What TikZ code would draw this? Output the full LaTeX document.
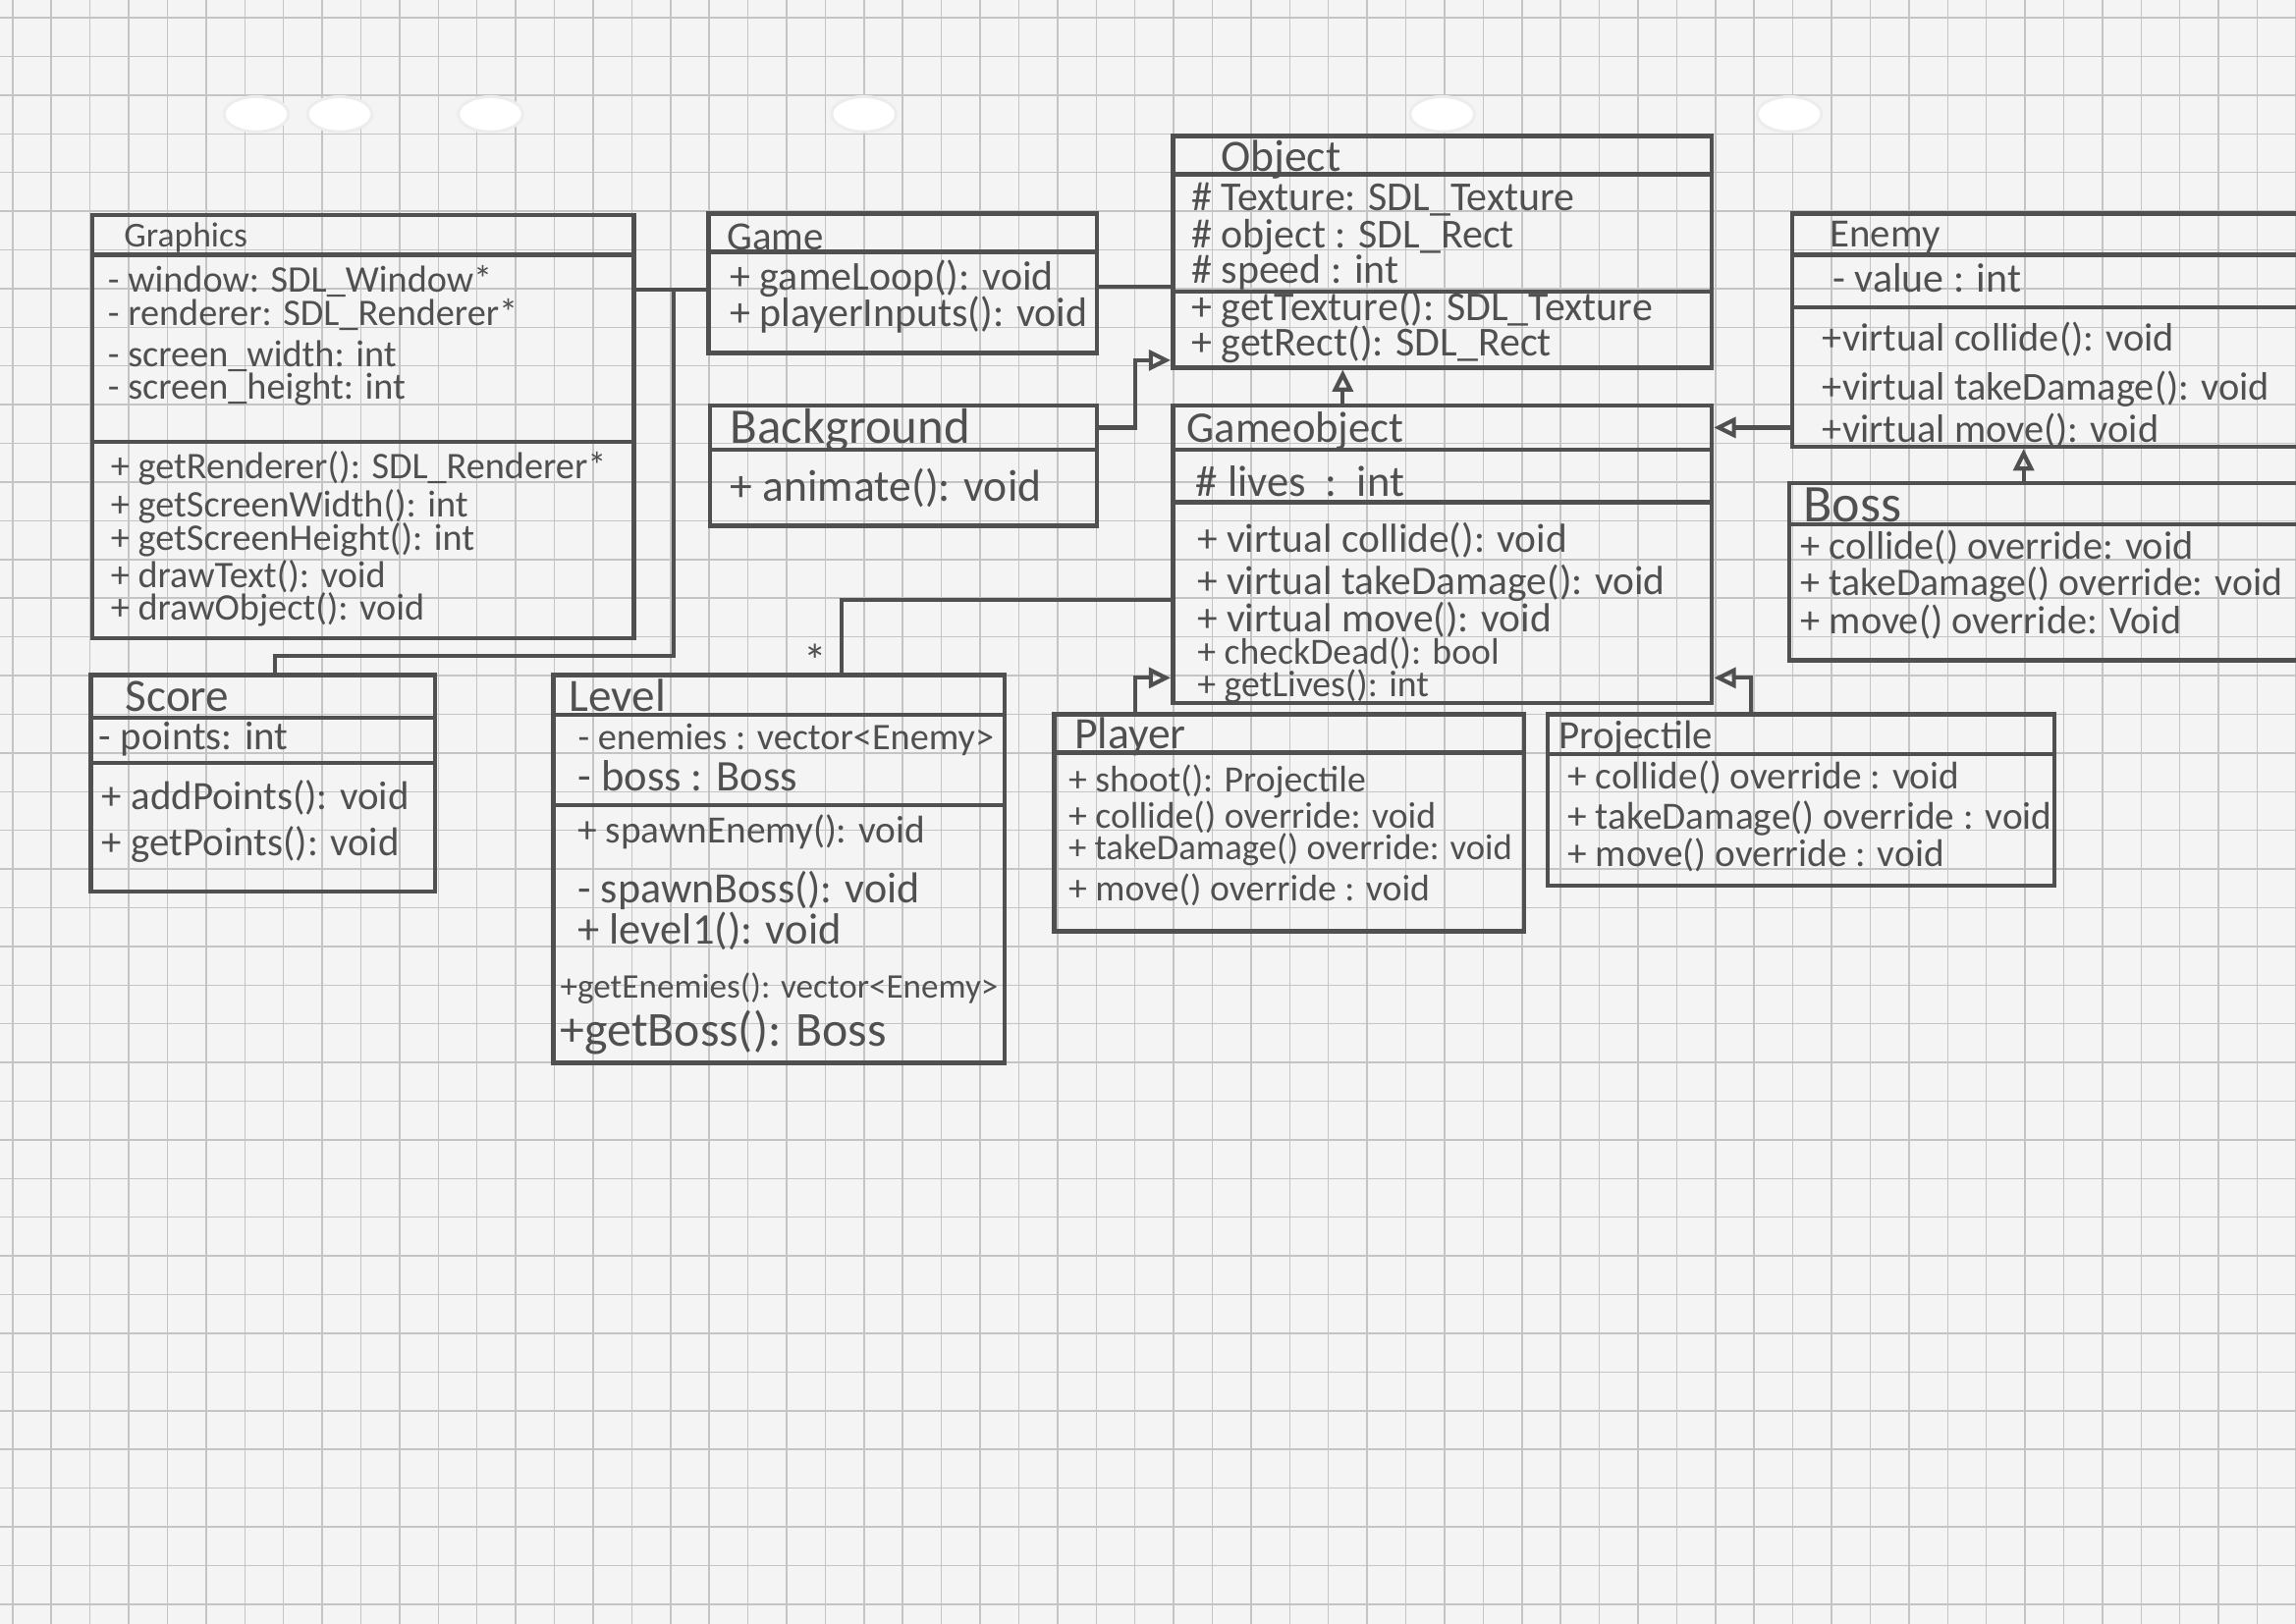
\documentclass[tikz,border=0pt]{standalone}
\usepackage{fontspec}
\setmainfont{Carlito}
\usetikzlibrary{arrows.meta,fit}
\definecolor{paper}{RGB}{244,244,244}
\definecolor{gridgray}{RGB}{196,196,196}
\definecolor{pencil}{RGB}{80,80,80}

\begin{document}
\begin{tikzpicture}[
      x=0.1mm, y=-0.1mm,
      cls/.style={draw=pencil, line width=0.3mm, inner sep=0pt},
      sep/.style={draw=pencil, line width=0.28mm},
      mem/.style={anchor=west, inner sep=0pt, text=pencil, font=\fontsize{7.8}{9}\selectfont},
      memsize/.style={font=\fontsize{#1}{9}\selectfont},
      cname/.style={mem, font=\fontsize{#1}{12}\selectfont},
      gridline/.style={draw=gridgray, line width=0.1mm},
      hole/.style={draw=black!7, fill=white, line width=0.2mm},
      assoc/.style={draw=pencil, line width=0.28mm},
      inh/.style={assoc, -{Triangle[open, length=1.5mm, width=1.4mm]}}
    ]
    \useasboundingbox (0,0) rectangle (1568,1109);
    \fill[paper] (0,0) rectangle (1568,1109);
    % graph paper
    \foreach \i in {0,...,59}
      \draw[gridline] ({8.6+26.43*\i},0) -- ({8.6+26.43*\i},1109);
    \foreach \j in {0,...,41}
      \draw[gridline] (0,{12.1+26.43*\j}) -- (1568,{12.1+26.43*\j});
    \foreach \h in {175,232,335,590,985,1222}
      \draw[hole] (\h,78) ellipse [x radius=2.2mm, y radius=1.2mm];

    % Graphics
    \node[cls, fit={(63,147) (433,436)}] (graphics) {};
    \draw[sep] (graphics.west |- 0,174) -- (graphics.east |- 0,174);
    \draw[sep] (graphics.west |- 0,302) -- (graphics.east |- 0,302);
    \node[cname=6.8] (graphicsName) at (84,162) {Graphics};
    \node[mem, memsize=7.3] (grWindow) at (73,192) {- window: SDL\_Window*};
    \node[mem, memsize=7.3] (grRenderer) at (73,215) {- renderer: SDL\_Renderer*};
    \node[mem, memsize=7.3] (grWidth) at (73,243) {- screen\_width: int};
    \node[mem, memsize=7.3] (grHeight) at (73,266) {- screen\_height: int};
    \node[mem, memsize=7.3] (grGetRenderer) at (75,320) {+ getRenderer(): SDL\_Renderer*};
    \node[mem, memsize=7.3] (grGetWidth) at (75,346) {+ getScreenWidth(): int};
    \node[mem, memsize=7.3] (grGetHeight) at (75,369) {+ getScreenHeight(): int};
    \node[mem, memsize=7.3] (grDrawText) at (75,394) {+ drawText(): void};
    \node[mem, memsize=7.3] (grDrawObject) at (75,416) {+ drawObject(): void};

    % Game and Background
    \node[cls, fit={(484,146) (749,241)}] (game) {};
    \draw[sep] (game.west |- 0,172) -- (game.east |- 0,172);
    \node[cname=7.8] (gameName) at (496,162) {Game};
    \node[mem, memsize=8] (gaLoop) at (498,190) {+ gameLoop(): void};
    \node[mem, memsize=8] (gaInputs) at (498,215) {+ playerInputs(): void};

    \node[cls, fit={(485,277) (749,359)}] (background) {};
    \draw[sep] (background.west |- 0,307) -- (background.east |- 0,307);
    \node[cname=9.7] (backgroundName) at (498,294) {Background};
    \node[mem, memsize=8.7] (bgAnimate) at (498,333) {+ animate(): void};

    % Object and Gameobject
    \node[cls, fit={(801,93) (1169,251)}] (object) {};
    \draw[sep] (object.west |- 0,119) -- (object.east |- 0,119);
    \draw[sep] (object.west |- 0,199) -- (object.east |- 0,199);
    \node[cname=8.7] (objectName) at (833,109) {Object};
    \node[mem, memsize=8] (obTexture) at (813,136) {\# Texture: SDL\_Texture};
    \node[mem, memsize=8] (obRect) at (813,162) {\# object : SDL\_Rect};
    \node[mem, memsize=8] (obSpeed) at (813,186) {\# speed : int};
    \node[mem, memsize=8] (obGetTexture) at (813,211) {+ getTexture(): SDL\_Texture};
    \node[mem, memsize=8] (obGetRect) at (813,235) {+ getRect(): SDL\_Rect};

    \node[cls, fit={(801,277) (1169,480)}] (gameobject) {};
    \draw[sep] (gameobject.west |- 0,307) -- (gameobject.east |- 0,307);
    \draw[sep] (gameobject.west |- 0,343) -- (gameobject.east |- 0,343);
    \node[cname=8.5] (gameobjectName) at (810,294) {Gameobject};
    \node[mem, memsize=8.5] (goLives) at (816,329) {\#~lives~~:~~int};
    \node[mem, memsize=7.9] (goCollide) at (817,369) {+ virtual collide(): void};
    \node[mem, memsize=7.9] (goDamage) at (817,398) {+ virtual takeDamage(): void};
    \node[mem, memsize=7.9] (goMove) at (817,423) {+ virtual move(): void};
    \node[mem, memsize=7.2] (goDead) at (817,446) {+ checkDead(): bool};
    \node[mem, memsize=7.2] (goLivesGet) at (817,469) {+ getLives(): int};

    % Enemy and Boss
    \node[cls, fit={(1224,146) (1578,305)}] (enemy) {};
    \draw[sep] (enemy.west |- 0,174) -- (enemy.east |- 0,174);
    \draw[sep] (enemy.west |- 0,210) -- (enemy.east |- 0,210);
    \node[cname=7.8] (enemyName) at (1249,162) {Enemy};
    \node[mem, memsize=8] (enValue) at (1251,190) {- value : int};
    \node[mem, memsize=7.7] (enCollide) at (1244,232) {+virtual collide(): void};
    \node[mem, memsize=7.7] (enDamage) at (1244,266) {+virtual takeDamage(): void};
    \node[mem, memsize=7.7] (enMove) at (1244,294) {+virtual move(): void};

    \node[cls, fit={(1222,330) (1578,451)}] (boss) {};
    \draw[sep] (boss.west |- 0,358) -- (boss.east |- 0,358);
    \node[cname=10.3] (bossName) at (1231,345) {Boss};
    \node[mem, memsize=7.7] (boCollide) at (1229,374) {+ collide() override: void};
    \node[mem, memsize=7.6] (boDamage) at (1229,399) {+ takeDamage() override: void};
    \node[mem, memsize=7.7] (boMove) at (1229,425) {+ move() override: Void};

    % Score
    \node[cls, fit={(62,461) (297,609)}] (score) {};
    \draw[sep] (score.west |- 0,490) -- (score.east |- 0,490);
    \draw[sep] (score.west |- 0,521) -- (score.east |- 0,521);
    \node[cname=9] (scoreName) at (85,476) {Score};
    \node[mem, memsize=7.8] (scPoints) at (67,505) {- points: int};
    \node[mem, memsize=7.8] (scAdd) at (69,545) {+ addPoints(): void};
    \node[mem, memsize=7.8] (scGet) at (69,577) {+ getPoints(): void};

    % Level
    \node[cls, fit={(378,461) (686,726)}] (level) {};
    \draw[sep] (level.west |- 0,488) -- (level.east |- 0,488);
    \draw[sep] (level.west |- 0,550) -- (level.east |- 0,550);
    \node[cname=9] (levelName) at (388,475) {Level};
    \node[mem, memsize=7.3] (leEnemies) at (394,505) {- enemies : vector<Enemy>};
    \node[mem, memsize=8.5] (leBoss) at (394,530) {- boss : Boss};
    \node[mem, memsize=7.5] (leSpawnEnemy) at (394,568) {+ spawnEnemy(): void};
    \node[mem, memsize=8.4] (leSpawnBoss) at (394,608) {- spawnBoss(): void};
    \node[mem, memsize=8.5] (leLevel) at (394,636) {+ level1(): void};
    \node[mem, memsize=6.7] (leGetEnemies) at (382,675) {+getEnemies(): vector<Enemy>};
    \node[mem, memsize=9.5] (leGetBoss) at (382,705) {+getBoss(): Boss};
    \node[mem, anchor=center, memsize=9] (levelMult) at (557,451) {*};

    % Player and Projectile
    \node[cls, fit={(720,488) (1041,636)}] (player) {};
    \draw[sep] (player.west |- 0,514) -- (player.east |- 0,514);
    \node[cname=8.7] (playerName) at (733,503) {Player};
    \node[mem, memsize=7.2] (plShoot) at (729,534) {+ shoot(): Projectile};
    \node[mem, memsize=7.2] (plCollide) at (729,558) {+ collide() override: void};
    \node[mem, memsize=7] (plDamage) at (729,580) {+ takeDamage() override: void};
    \node[mem, memsize=7.2] (plMove) at (729,608) {+ move() override : void};

    \node[cls, fit={(1057,488) (1403,605)}] (projectile) {};
    \draw[sep] (projectile.west |- 0,515) -- (projectile.east |- 0,515);
    \node[cname=7.8] (projectileName) at (1064,504) {Projectile};
    \node[mem, memsize=7.5] (prCollide) at (1070,531) {+ collide() override : void};
    \node[mem, memsize=7.5] (prDamage) at (1070,559) {+ takeDamage() override : void};
    \node[mem, memsize=7.5] (prMove) at (1070,584) {+ move() override : void};

    % connectors
    \coordinate (gJoint) at (460,198);
    \draw[assoc] (graphics.east |- gJoint) -- (game.west |- gJoint);
    \draw[assoc] (gJoint) |- (188,448) -- (score.north -| 188,0);
    \draw[assoc] (game.east |- 0,196) -- (object.west |- 0,196);
    \draw[inh] (background.east |- 0,292) -- ++(25,0) |- (object.west |- 0,246);
    \draw[inh] (gameobject.north -| 917,0) -- (object.south -| 917,0);
    \draw[inh] (enemy.west |- 0,292) -- (gameobject.east |- 0,292);
    \draw[inh] (boss.north -| 1382,0) -- (enemy.south -| 1382,0);
    \draw[inh] (player.north -| 775,0) |- (gameobject.west |- 0,463);
    \draw[inh] (projectile.north -| 1196,0) |- (gameobject.east |- 0,463);
    \draw[assoc] (level.north -| 575,0) |- (gameobject.west |- 0,410);
    \end{tikzpicture}
\end{document}
